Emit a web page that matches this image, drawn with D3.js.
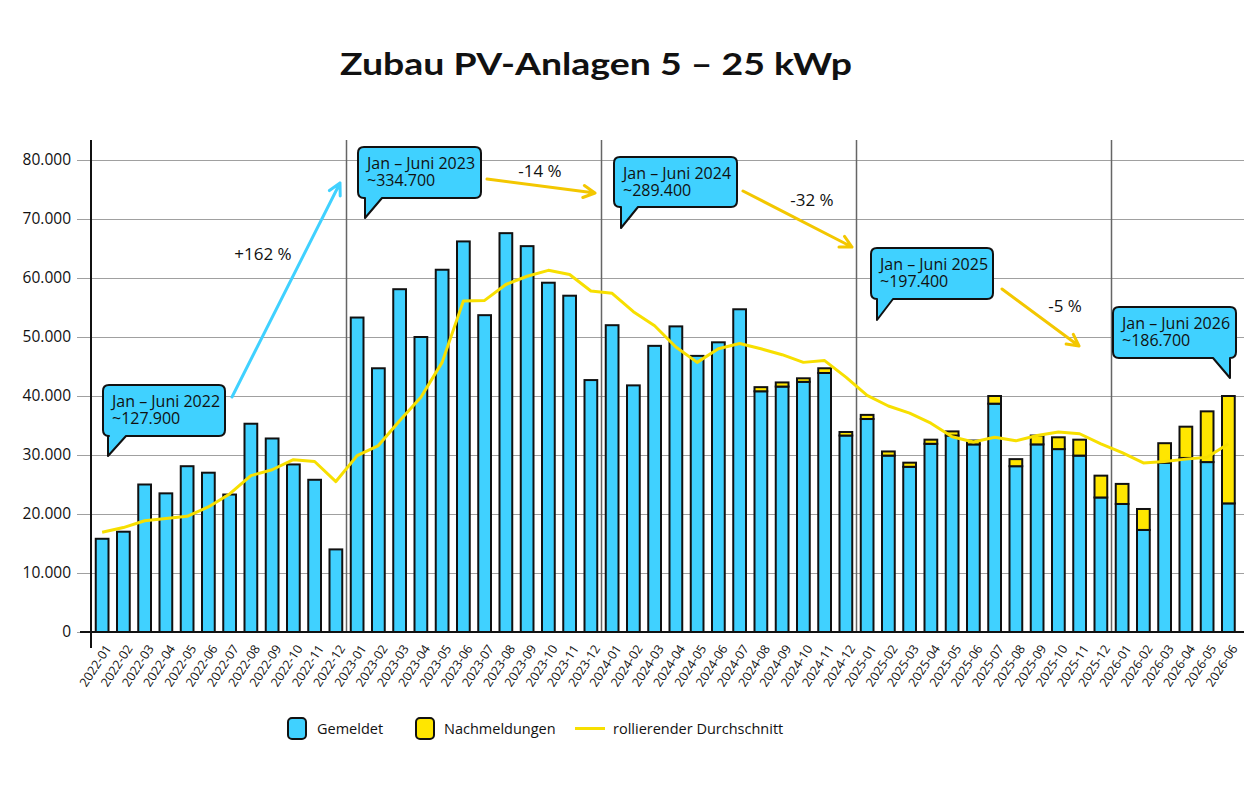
<!DOCTYPE html>
<html>
<head>
<meta charset="utf-8">
<script src="https://cdn.jsdelivr.net/npm/d3@7"></script>
<style>
  html, body { margin: 0; padding: 0; background: #ffffff; }
  svg { display: block; }
  text { font-family: "Open Sans", "Noto Sans", sans-serif; fill: #111; }
</style>
</head>
<body>
<svg id="chart" width="1260" height="800"></svg>
<script>
// ---------- data ----------
const months = [
  "2022-01","2022-02","2022-03","2022-04","2022-05","2022-06","2022-07","2022-08","2022-09","2022-10","2022-11","2022-12",
  "2023-01","2023-02","2023-03","2023-04","2023-05","2023-06","2023-07","2023-08","2023-09","2023-10","2023-11","2023-12",
  "2024-01","2024-02","2024-03","2024-04","2024-05","2024-06","2024-07","2024-08","2024-09","2024-10","2024-11","2024-12",
  "2025-01","2025-02","2025-03","2025-04","2025-05","2025-06","2025-07","2025-08","2025-09","2025-10","2025-11","2025-12",
  "2026-01","2026-02","2026-03","2026-04","2026-05","2026-06"
];
const gemeldet = [
  15800, 17000, 25000, 23500, 28100, 27000, 23300, 35300, 32800, 28400, 25800, 14000,
  53300, 44700, 58100, 50000, 61400, 66200, 53700, 67600, 65400, 59200, 57000, 42700,
  52000, 41800, 48500, 51800, 46800, 49100, 54700, 40800, 41600, 42400, 43900, 33300,
  36100, 29900, 28000, 31900, 33300, 31800, 38700, 28100, 31800, 31000, 29900, 22800,
  21700, 17300, 28700, 29500, 28800, 21800
];
const nachmeldungen = [
  0, 0, 0, 0, 0, 0, 0, 0, 0, 0, 0, 0,
  0, 0, 0, 0, 0, 0, 0, 0, 0, 0, 0, 0,
  0, 0, 0, 0, 0, 0, 0, 700, 700, 600, 800, 600,
  700, 700, 700, 700, 700, 650, 1300, 1200, 1500, 2000, 2700, 3700,
  3400, 3550, 3300, 5300, 8600, 18200
];
const rollingAvg = [
  16900, 17700, 18850, 19250, 19600, 21200, 23400, 26500, 27500, 29200, 28900, 25500,
  29900, 31600, 35800, 39800, 45700, 56100, 56200, 58900, 60300, 61300, 60600, 57800,
  57400, 54300, 51900, 48300, 45700, 48000, 48900, 48000, 47000, 45700, 46000, 43200,
  40100, 38300, 37100, 35400, 33100, 32200, 33000, 32400, 33300, 33900, 33600, 31900,
  30400, 28650, 28900, 29300, 29600, 31900
];
const yTicks = [0, 10000, 20000, 30000, 40000, 50000, 60000, 70000, 80000];
const yearStarts = ["2023-01", "2024-01", "2025-01", "2026-01"];

const calloutTitles = ["Jan – Juni 2022", "Jan – Juni 2023", "Jan – Juni 2024", "Jan – Juni 2025", "Jan – Juni 2026"];
const calloutValues = ["~127.900", "~334.700", "~289.400", "~197.400", "~186.700"];
const changeLabels = ["+162 %", "-14 %", "-32 %", "-5 %"];

const legendLabels = ["Gemeldet", "Nachmeldungen", "rollierender Durchschnitt"];

// ---------- layout / style ----------
const BLUE = "#40d1ff", YELLOW = "#ffe600", LINE = "#f7df00", ARROW_Y = "#f3c700";
const svg = d3.select("#chart");

const x = d3.scaleBand().domain(months).range([91.5, 91.5 + 21.25 * 54]).paddingInner(0.4).paddingOuter(0.2);
const y = d3.scaleLinear().domain([0, 80000]).range([632, 160]);
const cx = m => x(m) + x.bandwidth() / 2;

// title
svg.append("text")
  .attr("x", 340).attr("y", 75)
  .attr("textLength", 512).attr("lengthAdjust", "spacingAndGlyphs")
  .style("font-family", "Lato, 'Open Sans', sans-serif")
  .style("font-weight", 700).style("font-size", "31px")
  .text("Zubau PV-Anlagen 5 – 25 kWp");

// gridlines + y labels
const yAxis = d3.axisLeft(y).tickValues(yTicks).tickSize(-(1244 - 77)).tickFormat(d => d3.format(",")(d).replace(/,/g, "."));
const gy = svg.append("g").attr("transform", "translate(77,0)").call(yAxis);
gy.select(".domain").remove();
gy.selectAll(".tick line").attr("stroke", "#a0a0a0").attr("stroke-width", 1.2);
gy.selectAll(".tick text").attr("x", -6).style("font-size", "15.5px").style("font-family", "'Open Sans', sans-serif").attr("fill", "#111");

// year separator lines
svg.append("g").selectAll("line").data(yearStarts).join("line")
  .attr("x1", d => x(d) - x.step() * x.paddingInner() / 2).attr("x2", d => x(d) - x.step() * x.paddingInner() / 2)
  .attr("y1", 140).attr("y2", 632)
  .attr("stroke", "#666").attr("stroke-width", 1.5);

// bars
const bars = svg.append("g");
bars.selectAll("rect.g").data(months).join("rect").attr("class", "g")
  .attr("x", d => x(d)).attr("width", x.bandwidth())
  .attr("y", (d, i) => y(gemeldet[i])).attr("height", (d, i) => y(0) - y(gemeldet[i]))
  .attr("fill", BLUE).attr("stroke", "#111").attr("stroke-width", 2);
bars.selectAll("rect.n").data(months.filter((d, i) => nachmeldungen[i] > 0)).join("rect").attr("class", "n")
  .attr("x", d => x(d)).attr("width", x.bandwidth())
  .attr("y", d => { const i = months.indexOf(d); return y(gemeldet[i] + nachmeldungen[i]); })
  .attr("height", d => { const i = months.indexOf(d); return y(gemeldet[i]) - y(gemeldet[i] + nachmeldungen[i]); })
  .attr("fill", YELLOW).attr("stroke", "#111").attr("stroke-width", 2);

// rolling average line
svg.append("path")
  .datum(months.map((m, i) => [cx(m), y(rollingAvg[i])]))
  .attr("d", d3.line())
  .attr("fill", "none").attr("stroke", LINE).attr("stroke-width", 3).attr("stroke-linejoin", "round");

// axes lines
svg.append("line").attr("x1", 80).attr("x2", 1244).attr("y1", y(0)).attr("y2", y(0)).attr("stroke", "#111").attr("stroke-width", 2);
svg.append("line").attr("x1", 91).attr("x2", 91).attr("y1", 140).attr("y2", 648).attr("stroke", "#111").attr("stroke-width", 2);

// x tick labels
svg.append("g").selectAll("text").data(months).join("text")
  .attr("transform", d => `translate(${cx(d) + 6},${646}) rotate(-57)`)
  .attr("text-anchor", "end").attr("dy", "0.35em")
  .style("font-size", "12.5px")
  .text(d => d);

// callouts
const callouts = [
  { box: [103, 385, 225, 436], tail: [108, 126], apex: [108, 456] },
  { box: [358, 147, 481, 198], tail: [365, 382], apex: [365, 218] },
  { box: [614, 157, 737, 207], tail: [621, 638], apex: [621, 228] },
  { box: [871, 248, 993, 299], tail: [877, 893], apex: [877, 320] },
  { box: [1113, 307, 1236, 358], tail: [1213, 1230], apex: [1230, 378] }
];
function calloutPath(c) {
  const [x0, y0, x1, y1] = c.box, r = 6;
  const [t0, t1] = c.tail, [ax, ay] = c.apex;
  const p = d3.path();
  p.moveTo(x0 + r, y0);
  p.lineTo(x1 - r, y0); p.quadraticCurveTo(x1, y0, x1, y0 + r);
  p.lineTo(x1, y1 - r); p.quadraticCurveTo(x1, y1, x1 - r, y1);
  p.lineTo(t1, y1); p.lineTo(ax, ay); p.lineTo(t0, y1);
  p.lineTo(x0 + r, y1); p.quadraticCurveTo(x0, y1, x0, y1 - r);
  p.lineTo(x0, y0 + r); p.quadraticCurveTo(x0, y0, x0 + r, y0);
  p.closePath();
  return p.toString();
}
const cg = svg.append("g").selectAll("g").data(callouts).join("g");
cg.append("path").attr("d", d => calloutPath(d)).attr("fill", BLUE).attr("stroke", "#111").attr("stroke-width", 2).attr("stroke-linejoin", "round");
const ct = cg.append("text").style("font-size", "16px");
ct.append("tspan").attr("x", d => d.box[0] + 9).attr("y", d => d.box[1] + 22).text((d, i) => calloutTitles[i]);
ct.append("tspan").attr("x", d => d.box[0] + 9).attr("y", d => d.box[1] + 39).text((d, i) => calloutValues[i]);

// change arrows
const arrows = [
  { from: [232, 397], to: [340, 183], color: BLUE, label: [263, 255] },
  { from: [487, 179], to: [595, 193], color: ARROW_Y, label: [540, 172] },
  { from: [743, 191], to: [852, 247], color: ARROW_Y, label: [812, 201] },
  { from: [1002, 289], to: [1079, 346], color: ARROW_Y, label: [1065, 307] }
];
const ag = svg.append("g").selectAll("g").data(arrows).join("g");
ag.append("path").attr("d", a => {
  const [x0, y0] = a.from, [x1, y1] = a.to;
  const ang = Math.atan2(y1 - y0, x1 - x0), L = 13, w = Math.PI / 6.5;
  const p = d3.path();
  p.moveTo(x0, y0); p.lineTo(x1, y1);
  p.moveTo(x1 - L * Math.cos(ang - w), y1 - L * Math.sin(ang - w));
  p.lineTo(x1, y1);
  p.lineTo(x1 - L * Math.cos(ang + w), y1 - L * Math.sin(ang + w));
  return p.toString();
}).attr("fill", "none").attr("stroke", a => a.color).attr("stroke-width", 3).attr("stroke-linecap", "round").attr("stroke-linejoin", "round");
ag.append("text").attr("x", a => a.label[0]).attr("y", a => a.label[1]).attr("text-anchor", "middle").attr("dominant-baseline", "middle")
  .style("font-size", "17px").text((a, i) => changeLabels[i]);

// legend
const lg = svg.append("g");
const legendItems = [
  { type: "box", fill: BLUE, x: 288, tx: 317 },
  { type: "box", fill: YELLOW, x: 416, tx: 444 },
  { type: "line", fill: LINE, x: 575, tx: 613 }
];
legendItems.forEach((it, i) => {
  if (it.type === "box") {
    lg.append("rect").attr("x", it.x).attr("y", 718).attr("width", 18).attr("height", 21).attr("rx", 4)
      .attr("fill", it.fill).attr("stroke", "#111").attr("stroke-width", 2);
  } else {
    lg.append("line").attr("x1", it.x).attr("x2", it.x + 30).attr("y1", 728.5).attr("y2", 728.5).attr("stroke", it.fill).attr("stroke-width", 3);
  }
  lg.append("text").attr("x", it.tx).attr("y", 733.5).style("font-size", "14.5px").text(legendLabels[i]);
});
</script>
</body>
</html>
